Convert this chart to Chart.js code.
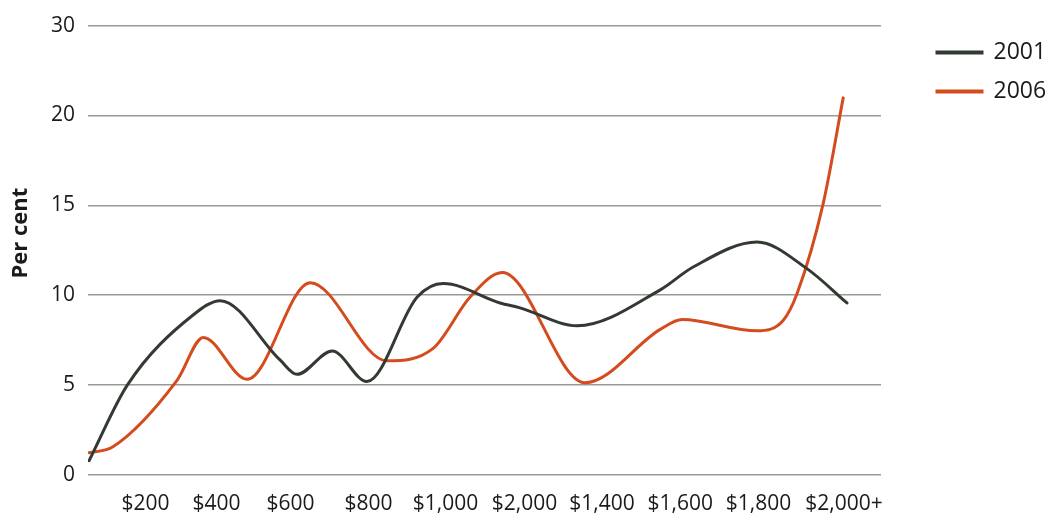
<!DOCTYPE html>
<html>
<head>
<meta charset="utf-8">
<title>Per cent by weekly income, 2001 and 2006</title>
<script src="https://cdn.jsdelivr.net/npm/chart.js@4.4.1/dist/chart.umd.min.js"></script>
<style>
  html, body { margin: 0; padding: 0; background: #fff; }
  #wrap { width: 1046px; height: 513px; }
</style>
</head>
<body>
<div id="wrap"><canvas id="incomeChart"></canvas></div>
<script>
// x axis runs over income bands (0 = first band); labels as printed in the source
const xLabels = ["$200", "$400", "$600", "$800", "$1,000", "$2,000", "$1,400", "$1,600", "$1,800", "$2,000+"];
const xLabelPos = [1.49, 3.37, 5.33, 7.39, 9.43, 11.52, 13.57, 15.64, 17.71, 19.97];
const yTickLabels = ["0", "5", "10", "15", "20", "30"];

// 2001
const x2001 = [0, 1.01, 2.75, 3.47, 5.05, 5.5, 6.43, 7.35, 8.68, 9.37, 10.87, 11.4, 12.91, 15.11, 15.98, 17.67, 18.99, 20.05];
const y2001 = [0.8, 5.0, 8.9, 9.7, 6.4, 5.6, 6.9, 5.2, 9.9, 10.65, 9.57, 9.3, 8.3, 10.3, 11.57, 12.96, 11.48, 9.57];

// 2006
const x2006 = [0, 0.63, 2.33, 3.02, 4.18, 5.85, 7.88, 9.1, 10.08, 10.93, 13.12, 15.11, 15.69, 17.67, 18.36, 18.73, 19.42, 19.95];
const y2006 = [1.24, 1.57, 5.28, 7.65, 5.32, 10.7, 6.35, 7.04, 9.9, 11.26, 5.13, 8.1, 8.65, 8.02, 8.6, 10.1, 15.1, 20.98];

const toPoints = (xs, ys) => xs.map((x, i) => ({ x: x, y: ys[i] }));

Chart.defaults.font.family = "'Open Sans', sans-serif";
Chart.defaults.color = "#1a1a1a";

const ctx = document.getElementById("incomeChart").getContext("2d");
const incomeChart = new Chart(ctx, {
  type: "line",
  data: {
    datasets: [
      {
        label: "2001",
        data: toPoints(x2001, y2001),
        borderColor: "#323a32",
        backgroundColor: "#323a32",
        borderWidth: 3,
        pointRadius: 0,
        cubicInterpolationMode: "monotone",
        borderCapStyle: "round",
      },
      {
        label: "2006",
        data: toPoints(x2006, y2006),
        borderColor: "#d44c1e",
        backgroundColor: "#d44c1e",
        borderWidth: 3,
        pointRadius: 0,
        cubicInterpolationMode: "monotone",
        borderCapStyle: "round",
      },
    ],
  },
  options: {
    responsive: true,
    maintainAspectRatio: false,
    animation: false,
    layout: { padding: { top: 25, right: 0, bottom: 0, left: 0 } },
    plugins: {
      legend: {
        position: "right",
        align: "start",
        maxWidth: 125,
        labels: { boxWidth: 45, boxHeight: 1, padding: 16, font: { size: 23 } },
      },
      tooltip: { enabled: false },
    },
    scales: {
      x: {
        type: "linear",
        min: -0.03,
        max: 20.95,
        grid: { display: false, drawTicks: false },
        border: { display: false },
        afterBuildTicks: (axis) => {
          axis.ticks = xLabelPos.map((v) => ({ value: v }));
        },
        ticks: {
          autoSkip: false,
          maxRotation: 0,
          padding: 16,
          font: { size: 21 },
          callback: (v, i) => xLabels[i],
        },
        afterFit: (axis) => {
          axis.height = 38;
        },
      },
      y: {
        min: 0,
        max: 25,
        grid: { color: "#999999", lineWidth: 1.5, drawTicks: false },
        border: { display: false },
        ticks: {
          stepSize: 5,
          padding: 13,
          font: { size: 21 },
          callback: (v, i) => yTickLabels[i],
        },
        title: {
          display: true,
          text: "      Per cent",
          font: { size: 22, weight: "bold" },
          padding: { top: 8, bottom: 0 },
        },
        afterFit: (axis) => {
          axis.width = 88;
        },
      },
      // empty axis, only keeps the gap between plot and legend
      gap: {
        position: "right",
        display: true,
        grid: { display: false },
        border: { display: false },
        ticks: { display: false },
        afterFit: (axis) => {
          axis.width = 40;
        },
      },
    },
  },
});
</script>
</body>
</html>
